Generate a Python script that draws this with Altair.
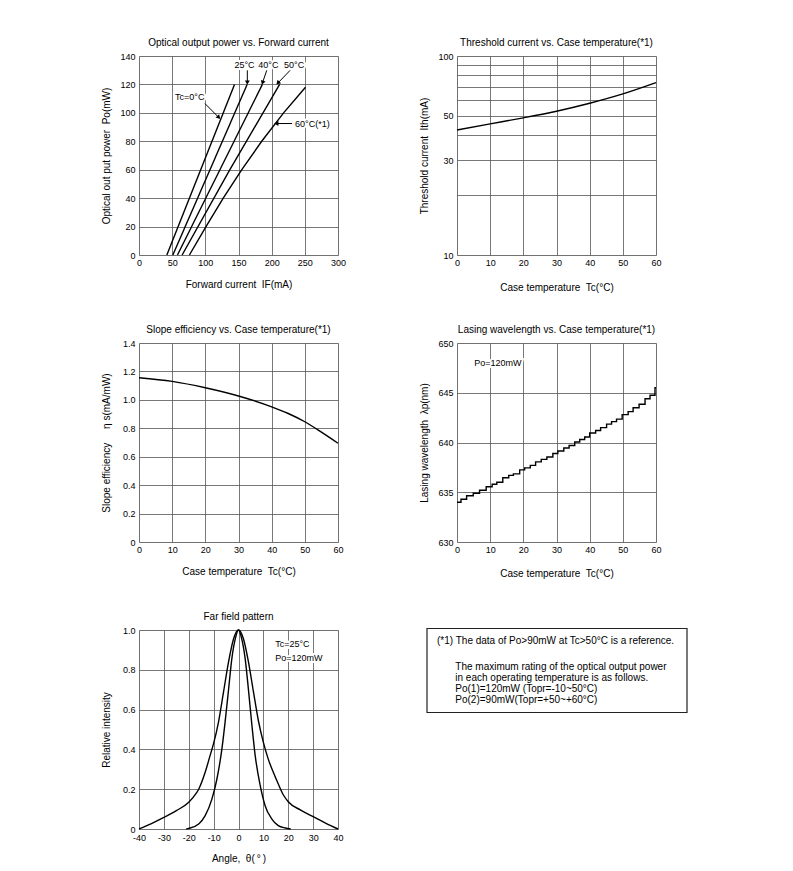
import altair as alt
import pandas as pd

FONT = "Liberation Sans"
W = 199
H = 199
GRID = "#555"

# ---------------- Panel 1: Optical output power vs. forward current
p1_if_0 = [42, 144]
p1_po_0 = [0, 120]
p1_if_25 = [51, 163]
p1_po_25 = [0, 120]
p1_if_40 = [58, 186]
p1_po_40 = [0, 120]
p1_if_50 = [65, 137, 212]
p1_po_50 = [0, 60, 120]
p1_if_60 = [76, 101, 127, 155, 185, 218, 251]
p1_po_60 = [0, 20, 40, 60, 80, 100, 118]

p1_lbl_left_text = ["Tc=0°C", "60°C(*1)"]
p1_lbl_left_x = [54.3, 235.3]
p1_lbl_left_y = [111.2, 92.5]
p1_lbl_mid_text = ["25°C", "40°C", "50°C"]
p1_lbl_mid_x = [159.1, 195.0, 233.8]
p1_lbl_mid_y = [133.9, 133.9, 133.9]

p1_arr_x1 = [99.5, 163.3, 192.6, 227.8, 230.8]
p1_arr_y1 = [106.5, 129.9, 129.9, 129.9, 92.5]
p1_arr_x2 = [119.6, 163.3, 186.6, 210.1, 208.1]
p1_arr_y2 = [97.1, 121.7, 121.7, 121.3, 92.5]
p1_arr_ang = [137, 180, 199, 224, 270]

# ---------------- Panel 2: Threshold current vs. case temperature
p2_tc = [0, 10, 20, 30, 40, 50, 60]
p2_ith = [42.5, 45.6, 48.9, 52.8, 57.9, 64.5, 73.5]

# ---------------- Panel 3: Slope efficiency vs. case temperature
p3_tc = [0, 10, 20, 30, 40, 45, 50, 55, 60]
p3_eta = [1.156, 1.13, 1.085, 1.027, 0.951, 0.904, 0.846, 0.773, 0.695]

# ---------------- Panel 4: Lasing wavelength vs. case temperature (stepped)
p4_tc = [0, 1.2, 2.9, 4.9, 6.8, 8.8, 10.6, 12.0, 13.8, 15.6, 17.0, 18.9, 20.4,
         22.1, 23.7, 25.4, 27.1, 28.9, 30.4, 32.2, 33.8, 35.5, 37.0, 38.5, 40.0,
         41.8, 43.3, 45.1, 46.6, 48.1, 49.8, 51.6, 53.1, 54.9, 56.7, 58.2, 59.7, 60]
p4_wl = [634.0, 634.3, 634.65, 634.9, 635.2, 635.55, 635.8, 636.0, 636.45, 636.7,
         636.85, 637.25, 637.45, 637.7, 638.05, 638.3, 638.55, 638.9, 639.15, 639.45,
         639.7, 640.05, 640.3, 640.55, 640.95, 641.2, 641.5, 641.85, 642.1, 642.35,
         642.8, 643.1, 643.5, 643.85, 644.4, 644.75, 645.5, 645.5]

# ---------------- Panel 5: Far field pattern
p5_wide_ang = [-40, -35, -30, -25, -20, -18, -16, -13.4, -11.4, -10, -8, -6, -4, -2, 0,
               2, 4, 6, 8, 10, 12, 14, 16, 18, 20, 25, 30, 35, 40]
p5_wide_int = [0.0, 0.027, 0.058, 0.092, 0.135, 0.163, 0.2, 0.285, 0.37, 0.43, 0.54,
               0.69, 0.84, 0.955, 1.0, 0.955, 0.84, 0.69, 0.544, 0.435, 0.35, 0.285,
               0.226, 0.172, 0.137, 0.095, 0.062, 0.03, 0.0]
p5_narrow_ang = [-21, -20, -16, -13.4, -10.7, -8.7, -6.7, -5.4, -4, -2.7, -1.3, 0,
                 1.3, 2.7, 4, 5.4, 6.7, 8.7, 10.7, 13.4, 16, 18.8, 21]
p5_narrow_int = [0.0, 0.003, 0.025, 0.067, 0.15, 0.25, 0.40, 0.536, 0.70, 0.854, 0.955,
                 1.0, 0.955, 0.854, 0.70, 0.52, 0.37, 0.22, 0.117, 0.05, 0.017, 0.005, 0.0]

box_lines = [
    "(*1) The data of Po>90mW at Tc>50°C is a reference.",
    "The maximum rating of the optical output power",
    "in each operating temperature is as follows.",
    "Po(1)=120mW (Topr=-10~50°C)",
    "Po(2)=90mW(Topr=+50~+60°C)",
]

ONE_DEC = "datum.value == 0 ? '0' : format(datum.value, '.1f')"
NB = "\u00a0"


def x_axis(title, values, label_expr=None, title_y=29, pad=3):
    kw = dict(title=title, values=values, grid=True, ticks=False, domain=False,
              labelFlush=False, labelOverlap=False, labelFontSize=9, labelFont=FONT,
              labelColor="black", labelPadding=pad, titleFont=FONT, titleFontSize=10,
              titleFontWeight="normal", titleColor="black", titleX=W / 2, titleY=title_y,
              titleBaseline="middle", titleAlign="center", gridColor=GRID,
              gridWidth=0.8, gridOpacity=1)
    if label_expr:
        kw["labelExpr"] = label_expr
    return alt.Axis(**kw)


def y_axis(title, values, label_expr=None):
    kw = dict(title=title, values=values, grid=True, ticks=False, domain=False,
              labelFlush=False, labelOverlap=False, labelFontSize=9, labelFont=FONT,
              labelColor="black", labelPadding=4, titleFont=FONT, titleFontSize=10,
              titleFontWeight="normal", titleColor="black", titleX=-33, titleY=H / 2,
              titleAngle=270, titleBaseline="middle", titleAlign="center",
              gridColor=GRID, gridWidth=0.8, gridOpacity=1)
    if label_expr:
        kw["labelExpr"] = label_expr
    return alt.Axis(**kw)


def ttl(text):
    return alt.Title(text, font=FONT, fontSize=10, fontWeight="normal", color="black",
                     anchor="middle", frame="group", offset=4)


def labels(df, xe, ye, align, size=9):
    halo = alt.Chart(df).mark_text(align=align, baseline="middle", font=FONT,
                                   fontSize=size, color="white", stroke="white",
                                   strokeWidth=4).encode(x=xe, y=ye, text="t:N")
    txt = alt.Chart(df).mark_text(align=align, baseline="middle", font=FONT,
                                  fontSize=size, color="black").encode(x=xe, y=ye, text="t:N")
    return [halo, txt]


# ---------- panel 1
rows = []
for name, xs, ys in [("0", p1_if_0, p1_po_0), ("25", p1_if_25, p1_po_25),
                     ("40", p1_if_40, p1_po_40), ("50", p1_if_50, p1_po_50),
                     ("60", p1_if_60, p1_po_60)]:
    for i, (a, b) in enumerate(zip(xs, ys)):
        rows.append({"tc": name, "i": a, "p": b, "o": i})
df1 = pd.DataFrame(rows)

sc1x = alt.Scale(domain=[0, 300], nice=False)
sc1y = alt.Scale(domain=[0, 140], nice=False)
ax1x = x_axis(f"Forward current{NB}{NB}IF(mA)", list(range(0, 301, 50)))
ax1y = y_axis(f"Optical out put power{NB}{NB}Po(mW)", list(range(0, 141, 20)))


def X1(f):
    return alt.X(f"{f}:Q", scale=sc1x, axis=ax1x)


def Y1(f):
    return alt.Y(f"{f}:Q", scale=sc1y, axis=ax1y)


p1_lines = alt.Chart(df1).mark_line(color="black", strokeWidth=1.4).encode(
    x=X1("i"), y=Y1("p"), detail="tc:N", order="o:Q")

df1l = pd.DataFrame({"t": p1_lbl_left_text, "i": p1_lbl_left_x, "p": p1_lbl_left_y})
df1m = pd.DataFrame({"t": p1_lbl_mid_text, "i": p1_lbl_mid_x, "p": p1_lbl_mid_y})
dfa = pd.DataFrame({"x1": p1_arr_x1, "y1": p1_arr_y1, "x2": p1_arr_x2,
                    "y2": p1_arr_y2, "ang": p1_arr_ang})
p1_shaft = alt.Chart(dfa).mark_rule(color="black", strokeWidth=1).encode(
    x=X1("x1"), y=Y1("y1"), x2="x2:Q", y2="y2:Q")
p1_head = alt.Chart(dfa).mark_point(shape="triangle", filled=True, size=24,
                                    color="black", opacity=1).encode(
    x=X1("x2"), y=Y1("y2"), angle=alt.Angle("ang:Q", scale=None))

p1 = alt.layer(
    p1_lines,
    *labels(df1l, X1("i"), Y1("p"), "left"),
    *labels(df1m, X1("i"), Y1("p"), "center"),
    p1_shaft, p1_head,
).properties(width=W, height=H, title=ttl("Optical output power vs. Forward current"))

# ---------- panel 2
df2 = pd.DataFrame({"tc": p2_tc, "ith": p2_ith})
p2 = alt.Chart(df2).mark_line(color="black", strokeWidth=1.4, interpolate="monotone").encode(
    x=alt.X("tc:Q", scale=alt.Scale(domain=[0, 60], nice=False),
            axis=x_axis(f"Case temperature{NB}{NB}Tc(°C)", list(range(0, 61, 10)),
                        title_y=32)),
    y=alt.Y("ith:Q", scale=alt.Scale(type="log", domain=[10, 100], nice=False),
            axis=y_axis(f"Threshold current{NB}{NB}Ith(mA)", list(range(10, 101, 10)),
                        "(datum.value == 10 || datum.value == 30 || datum.value == 50 || datum.value == 100) ? '' + datum.value : ''")),
).properties(width=W, height=H, title=ttl("Threshold current vs. Case temperature(*1)"))

# ---------- panel 3
df3 = pd.DataFrame({"tc": p3_tc, "eta": p3_eta})
p3 = alt.Chart(df3).mark_line(color="black", strokeWidth=1.4, interpolate="monotone").encode(
    x=alt.X("tc:Q", scale=alt.Scale(domain=[0, 60], nice=False),
            axis=x_axis(f"Case temperature{NB}{NB}Tc(°C)", list(range(0, 61, 10)))),
    y=alt.Y("eta:Q", scale=alt.Scale(domain=[0, 1.4], nice=False),
            axis=y_axis(f"Slope efficiency{NB}{NB}{NB}{NB}{NB}η s(mA/mW)",
                        [0, 0.2, 0.4, 0.6, 0.8, 1.0, 1.2, 1.4], ONE_DEC)),
).properties(width=W, height=H, title=ttl("Slope efficiency vs. Case temperature(*1)"))

# ---------- panel 4
sc4x = alt.Scale(domain=[0, 60], nice=False)
sc4y = alt.Scale(domain=[630, 650], nice=False, zero=False)
ax4x = x_axis(f"Case temperature{NB}{NB}Tc(°C)", list(range(0, 61, 10)), title_y=31)
ax4y = y_axis(f"Lasing wavelength{NB}{NB}λp(nm)", list(range(630, 651, 5)))
X4 = alt.X("tc:Q", scale=sc4x, axis=ax4x)
Y4 = alt.Y("wl:Q", scale=sc4y, axis=ax4y)
df4 = pd.DataFrame({"tc": p4_tc, "wl": p4_wl})
p4_line = alt.Chart(df4).mark_line(color="black", strokeWidth=1.4,
                                   interpolate="step-after").encode(x=X4, y=Y4)
df4t = pd.DataFrame({"t": ["Po=120mW"], "tc": [5.2], "wl": [648.0]})
p4 = alt.layer(p4_line, *labels(df4t, X4, Y4, "left")).properties(
    width=W, height=H, title=ttl("Lasing wavelength vs. Case temperature(*1)"))

# ---------- panel 5
sc5x = alt.Scale(domain=[-40, 40], nice=False)
sc5y = alt.Scale(domain=[0, 1.0], nice=False)
ax5x = x_axis(f"Angle,{NB}{NB}θ(\u2009°\u2009)", list(range(-40, 41, 10)),
              label_expr="'' + datum.value", pad=4)
ax5y = y_axis("Relative intensity", [0, 0.2, 0.4, 0.6, 0.8, 1.0], ONE_DEC)
X5 = alt.X("a:Q", scale=sc5x, axis=ax5x)
Y5 = alt.Y("v:Q", scale=sc5y, axis=ax5y)
df5 = pd.concat([
    pd.DataFrame({"s": "wide", "a": p5_wide_ang, "v": p5_wide_int}),
    pd.DataFrame({"s": "narrow", "a": p5_narrow_ang, "v": p5_narrow_int}),
])
p5_line = alt.Chart(df5).mark_line(color="black", strokeWidth=1.4,
                                   interpolate="monotone").encode(x=X5, y=Y5, detail="s:N")
df5t = pd.DataFrame({"t": ["Tc=25°C", "Po=120mW"], "a": [14.75, 14.75], "v": [0.928, 0.861]})
p5 = alt.layer(*labels(df5t, X5, Y5, "left"), p5_line).properties(
    width=W, height=H, title=ttl("Far field pattern"))

# ---------- note box
one = pd.DataFrame({"k": [0]})
box_rect = alt.Chart(one).mark_rect(fill="white", stroke="#222", strokeWidth=1.2).encode(
    x=alt.value(-30), x2=alt.value(230), y=alt.value(-1.5), y2=alt.value(82.5))
box_layers = [box_rect]
box_pos = [(-20, 11), (-1.7, 36.7), (-1.7, 47.7), (-1.7, 58.7), (-1.7, 69.7)]
for line, (bx, by) in zip(box_lines, box_pos):
    box_layers.append(
        alt.Chart(pd.DataFrame({"t": [line]})).mark_text(
            align="left", baseline="middle", font=FONT, fontSize=10, color="black").encode(
            x=alt.value(bx), y=alt.value(by), text="t:N"))
box = alt.layer(*box_layers).properties(
    width=W, height=84, view=alt.ViewBackground(stroke="transparent"))

chart = alt.concat(
    p1, p2, p3, p4, p5, box, columns=2,
    spacing=alt.RowColnumber(row=88, column=119), bounds="flush", align="all",
).properties(
    padding={"left": 92, "top": 29, "right": 5, "bottom": 0},
    background="white",
).configure_view(stroke="black", strokeWidth=1.5).configure(font=FONT)

chart.save("out.html", embed_options={"renderer": "svg", "actions": False})
